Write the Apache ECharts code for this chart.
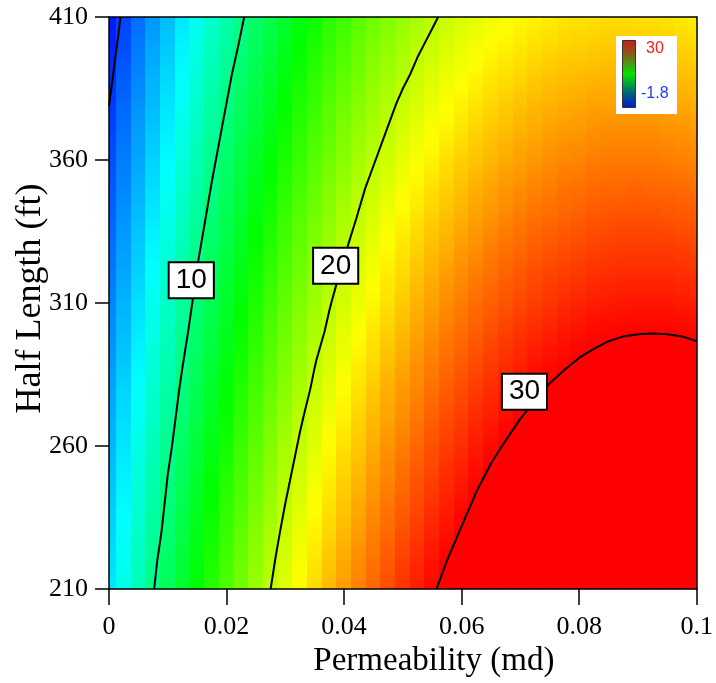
<!DOCTYPE html>
<html>
<head>
<meta charset="utf-8">
<script src="https://cdn.jsdelivr.net/npm/echarts@6/dist/echarts.min.js"></script>
<style>
  html, body { margin: 0; padding: 0; background: #fff; }
  #chart { width: 716px; height: 683px; }
</style>
</head>
<body>
<div id="chart"></div>
<script>
// Grid nodes: permeability (md) along x, fracture half length (ft) along y
const permeability = [0, 0.0025, 0.005, 0.0075, 0.01, 0.0125, 0.015, 0.0175, 0.02, 0.0225,
  0.025, 0.0275, 0.03, 0.0325, 0.035, 0.0375, 0.04, 0.0425, 0.045, 0.0475,
  0.05, 0.0525, 0.055, 0.0575, 0.06, 0.0625, 0.065, 0.0675, 0.07, 0.0725,
  0.075, 0.0775, 0.08, 0.0825, 0.085, 0.0875, 0.09, 0.0925, 0.095, 0.0975, 0.1];
const halfLength = [210, 220, 230, 240, 250, 260, 270, 280, 290, 300,
  310, 320, 330, 340, 350, 360, 370, 380, 390, 400, 410];

// Response value at each node, one row per half length (210 ft first)
const surface = [
  [5.4, 6.9, 8.4, 9.9, 11.3, 12.7, 14.0, 15.3, 16.5, 17.7, 18.9, 20.0, 21.1, 22.2, 23.2, 24.2, 25.1, 26.0, 26.8, 27.6, 28.4, 29.1, 29.8, 30.5, 31.1, 31.7, 32.2, 32.7, 33.1, 33.5, 33.9, 34.2, 34.5, 34.8, 35.0, 35.2, 35.3, 35.4, 35.4, 35.4, 35.4],
  [5.1, 6.6, 8.1, 9.6, 11.0, 12.3, 13.7, 14.9, 16.2, 17.4, 18.5, 19.7, 20.7, 21.8, 22.8, 23.8, 24.7, 25.6, 26.4, 27.2, 28.0, 28.7, 29.4, 30.0, 30.6, 31.2, 31.7, 32.2, 32.6, 33.0, 33.4, 33.7, 34.0, 34.2, 34.4, 34.6, 34.7, 34.8, 34.8, 34.8, 34.8],
  [4.8, 6.3, 7.8, 9.2, 10.6, 12.0, 13.3, 14.6, 15.8, 17.0, 18.2, 19.3, 20.4, 21.4, 22.4, 23.3, 24.2, 25.1, 26.0, 26.7, 27.5, 28.2, 28.9, 29.5, 30.1, 30.7, 31.2, 31.7, 32.1, 32.5, 32.8, 33.2, 33.4, 33.7, 33.9, 34.0, 34.1, 34.2, 34.2, 34.2, 34.2],
  [4.5, 6.0, 7.5, 8.9, 10.3, 11.7, 13.0, 14.2, 15.5, 16.6, 17.8, 18.9, 20.0, 21.0, 22.0, 22.9, 23.8, 24.7, 25.5, 26.3, 27.0, 27.7, 28.4, 29.0, 29.6, 30.2, 30.7, 31.1, 31.6, 32.0, 32.3, 32.6, 32.9, 33.1, 33.3, 33.4, 33.5, 33.6, 33.6, 33.6, 33.6],
  [4.2, 5.7, 7.2, 8.6, 10.0, 11.3, 12.6, 13.9, 15.1, 16.3, 17.4, 18.5, 19.6, 20.6, 21.6, 22.5, 23.4, 24.2, 25.1, 25.8, 26.6, 27.3, 27.9, 28.6, 29.1, 29.7, 30.2, 30.6, 31.0, 31.4, 31.8, 32.1, 32.3, 32.5, 32.7, 32.8, 32.9, 33.0, 33.0, 33.0, 32.9],
  [3.9, 5.4, 6.9, 8.3, 9.6, 11.0, 12.3, 13.5, 14.7, 15.9, 17.0, 18.1, 19.2, 20.2, 21.1, 22.1, 23.0, 23.8, 24.6, 25.4, 26.1, 26.8, 27.5, 28.1, 28.6, 29.2, 29.7, 30.1, 30.5, 30.9, 31.2, 31.5, 31.8, 32.0, 32.1, 32.3, 32.4, 32.4, 32.4, 32.4, 32.3],
  [3.6, 5.1, 6.5, 7.9, 9.3, 10.6, 11.9, 13.1, 14.3, 15.5, 16.6, 17.7, 18.7, 19.8, 20.7, 21.6, 22.5, 23.4, 24.2, 24.9, 25.6, 26.3, 27.0, 27.6, 28.1, 28.7, 29.1, 29.6, 29.98, 30.3, 30.7, 30.9, 31.2, 31.4, 31.6, 31.7, 31.8, 31.8, 31.8, 31.8, 31.7],
  [3.3, 4.8, 6.2, 7.6, 8.9, 10.3, 11.5, 12.8, 14.0, 15.1, 16.2, 17.3, 18.3, 19.3, 20.3, 21.2, 22.1, 22.9, 23.7, 24.5, 25.2, 25.8, 26.5, 27.1, 27.6, 28.1, 28.6, 29.0, 29.4, 29.8, 30.1, 30.4, 30.6, 30.8, 31.0, 31.1, 31.2, 31.2, 31.2, 31.1, 31.1],
  [3.0, 4.4, 5.9, 7.3, 8.6, 9.9, 11.2, 12.4, 13.6, 14.7, 15.8, 16.9, 17.9, 18.9, 19.9, 20.8, 21.6, 22.5, 23.2, 24.0, 24.7, 25.4, 26.0, 26.6, 27.1, 27.6, 28.1, 28.5, 28.9, 29.3, 29.6, 29.8, 30.05, 30.2, 30.4, 30.5, 30.6, 30.6, 30.6, 30.5, 30.4],
  [2.7, 4.1, 5.5, 6.9, 8.2, 9.5, 10.8, 12.0, 13.2, 14.3, 15.4, 16.5, 17.5, 18.5, 19.4, 20.3, 21.2, 22.0, 22.8, 23.5, 24.2, 24.9, 25.5, 26.1, 26.6, 27.1, 27.6, 28.0, 28.4, 28.7, 29.0, 29.3, 29.5, 29.7, 29.8, 29.9, 29.94, 29.96, 29.94, 29.9, 29.8],
  [2.3, 3.8, 5.2, 6.6, 7.9, 9.2, 10.4, 11.6, 12.8, 13.9, 15.0, 16.1, 17.1, 18.1, 19.0, 19.9, 20.7, 21.5, 22.3, 23.0, 23.7, 24.4, 25.0, 25.6, 26.1, 26.6, 27.0, 27.4, 27.8, 28.1, 28.4, 28.7, 28.9, 29.1, 29.2, 29.3, 29.3, 29.3, 29.3, 29.2, 29.1],
  [2.0, 3.4, 4.8, 6.2, 7.5, 8.8, 10.1, 11.3, 12.4, 13.5, 14.6, 15.7, 16.7, 17.6, 18.6, 19.4, 20.3, 21.1, 21.8, 22.6, 23.2, 23.9, 24.5, 25.1, 25.6, 26.1, 26.5, 26.9, 27.3, 27.6, 27.9, 28.1, 28.3, 28.5, 28.6, 28.7, 28.7, 28.7, 28.7, 28.6, 28.5],
  [1.7, 3.1, 4.5, 5.9, 7.2, 8.4, 9.7, 10.9, 12.0, 13.1, 14.2, 15.2, 16.2, 17.2, 18.1, 19.0, 19.8, 20.6, 21.4, 22.1, 22.8, 23.4, 24.0, 24.5, 25.1, 25.5, 26.0, 26.4, 26.7, 27.0, 27.3, 27.5, 27.7, 27.9, 28.0, 28.1, 28.1, 28.1, 28.1, 28.0, 27.8],
  [1.3, 2.8, 4.1, 5.5, 6.8, 8.1, 9.3, 10.5, 11.6, 12.7, 13.8, 14.8, 15.8, 16.8, 17.7, 18.5, 19.4, 20.1, 20.9, 21.6, 22.3, 22.9, 23.5, 24.0, 24.5, 25.0, 25.4, 25.8, 26.2, 26.5, 26.7, 26.9, 27.1, 27.3, 27.4, 27.5, 27.5, 27.5, 27.4, 27.3, 27.2],
  [1.0, 2.4, 3.8, 5.1, 6.4, 7.7, 8.9, 10.1, 11.2, 12.3, 13.4, 14.4, 15.4, 16.3, 17.2, 18.1, 18.9, 19.7, 20.4, 21.1, 21.8, 22.4, 23.0, 23.5, 24.0, 24.5, 24.9, 25.3, 25.6, 25.9, 26.1, 26.4, 26.5, 26.7, 26.8, 26.8, 26.9, 26.8, 26.8, 26.7, 26.5],
  [0.7, 2.1, 3.4, 4.8, 6.1, 7.3, 8.5, 9.7, 10.8, 11.9, 13.0, 14.0, 14.9, 15.9, 16.8, 17.6, 18.4, 19.2, 19.9, 20.6, 21.3, 21.9, 22.4, 23.0, 23.5, 23.9, 24.3, 24.7, 25.0, 25.3, 25.6, 25.8, 25.9, 26.1, 26.2, 26.2, 26.2, 26.2, 26.1, 26.0, 25.9],
  [0.3, 1.7, 3.1, 4.4, 5.7, 6.9, 8.1, 9.3, 10.4, 11.5, 12.5, 13.5, 14.5, 15.4, 16.3, 17.1, 18.0, 18.7, 19.4, 20.1, 20.8, 21.4, 21.9, 22.4, 22.9, 23.4, 23.8, 24.1, 24.5, 24.7, 25.0, 25.2, 25.3, 25.5, 25.6, 25.6, 25.6, 25.6, 25.5, 25.4, 25.2],
  [-0.04, 1.4, 2.7, 4.0, 5.3, 6.5, 7.7, 8.9, 10.0, 11.1, 12.1, 13.1, 14.1, 15.0, 15.8, 16.7, 17.5, 18.2, 18.9, 19.6, 20.3, 20.8, 21.4, 21.9, 22.4, 22.8, 23.2, 23.6, 23.9, 24.2, 24.4, 24.6, 24.7, 24.9, 24.9, 25.0, 25.0, 24.9, 24.8, 24.7, 24.5],
  [-0.4, 1.0, 2.3, 3.7, 4.9, 6.1, 7.3, 8.5, 9.6, 10.7, 11.7, 12.7, 13.6, 14.5, 15.4, 16.2, 17.0, 17.7, 18.5, 19.1, 19.7, 20.3, 20.9, 21.4, 21.8, 22.3, 22.7, 23.0, 23.3, 23.6, 23.8, 24.0, 24.1, 24.2, 24.3, 24.3, 24.3, 24.3, 24.2, 24.0, 23.9],
  [-0.7, 0.6, 2.0, 3.3, 4.5, 5.8, 6.9, 8.1, 9.2, 10.2, 11.2, 12.2, 13.2, 14.1, 14.9, 15.7, 16.5, 17.3, 18.0, 18.6, 19.2, 19.8, 20.3, 20.8, 21.3, 21.7, 22.1, 22.4, 22.7, 23.0, 23.2, 23.4, 23.5, 23.6, 23.7, 23.7, 23.7, 23.6, 23.5, 23.4, 23.2],
  [-1.1, 0.3, 1.6, 2.9, 4.1, 5.4, 6.5, 7.7, 8.7, 9.8, 10.8, 11.8, 12.7, 13.6, 14.4, 15.3, 16.0, 16.8, 17.5, 18.1, 18.7, 19.3, 19.8, 20.3, 20.8, 21.2, 21.5, 21.9, 22.2, 22.4, 22.6, 22.8, 22.9, 23.0, 23.1, 23.1, 23.0, 23.0, 22.9, 22.7, 22.5]
];

// Axis ticks
const xTicks = [0, 0.02, 0.04, 0.06, 0.08, 0.1];
const yTicks = [210, 260, 310, 360, 410];

// Contour levels and which of them carry a value label
const contourLevels = [0, 10, 20, 30];
const labelledLevels = [10, 20, 30];

// Colour scale limits shown in the key
const colorMin = -1.8;
const colorMax = 30;

// ---------------------------------------------------------------------------
const SERIF = "'Liberation Serif', 'Times New Roman', serif";
const SANS = "'Liberation Sans', Arial, sans-serif";

// Rainbow scale: blue -> cyan -> green -> yellow -> red, clamped at the ends
const rampStops = [[0, 0, 255], [0, 255, 255], [0, 255, 0], [255, 255, 0], [255, 0, 0]];
function colorOf(v) {
  let t = (v - colorMin) / (colorMax - colorMin);
  t = Math.max(0, Math.min(1, t));
  const s = t * (rampStops.length - 1);
  const i = Math.min(Math.floor(s), rampStops.length - 2);
  const f = s - i;
  const a = rampStops[i], b = rampStops[i + 1];
  return 'rgb(' + a.map((c, n) => Math.round(c + (b[n] - c) * f)).join(',') + ')';
}

const cellW = permeability[1] - permeability[0];

// One strip per column between two neighbouring half-length rows:
// [permeability, lower half length, lower value, upper half length, upper value]
const strips = [];
for (let r = 0; r < halfLength.length - 1; r++) {
  permeability.forEach((k, c) => {
    strips.push([k, halfLength[r], surface[r][c], halfLength[r + 1], surface[r + 1][c]]);
  });
}

function renderStrip(params, api) {
  const k = api.value(0);
  const zLow = api.value(2), zHigh = api.value(4);
  const tl = api.coord([k - cellW / 2, api.value(3)]);
  const br = api.coord([k + cellW / 2, api.value(1)]);
  const cs = params.coordSys;
  const x0 = Math.max(cs.x, Math.floor(tl[0]));
  const x1 = Math.min(cs.x + cs.width, Math.ceil(br[0]));
  const y0 = Math.max(cs.y, Math.floor(tl[1]));
  const y1 = Math.min(cs.y + cs.height, Math.ceil(br[1]));
  const shade = [];
  for (let s = 0; s <= 4; s++) {
    shade.push({ offset: s / 4, color: colorOf(zLow + (zHigh - zLow) * s / 4) });
  }
  return {
    type: 'rect',
    shape: { x: x0, y: y0, width: x1 - x0, height: y1 - y0 },
    style: { fill: new echarts.graphic.LinearGradient(0, 1, 0, 0, shade) }
  };
}

// Marching squares over the node grid; returns polylines in data coordinates
function traceContour(level) {
  const nx = permeability.length, ny = halfLength.length;
  const pts = new Map();
  const links = new Map();
  const val = n => surface[(n / nx) | 0][n % nx];
  function cross(n1, n2) {
    const v1 = val(n1), v2 = val(n2);
    if ((v1 >= level) === (v2 >= level)) return null;
    const id = Math.min(n1, n2) + '-' + Math.max(n1, n2);
    if (!pts.has(id)) {
      const t = (level - v1) / (v2 - v1);
      const i1 = n1 % nx, j1 = (n1 / nx) | 0, i2 = n2 % nx, j2 = (n2 / nx) | 0;
      pts.set(id, [
        permeability[i1] + (permeability[i2] - permeability[i1]) * t,
        halfLength[j1] + (halfLength[j2] - halfLength[j1]) * t
      ]);
    }
    return id;
  }
  function link(a, b) {
    if (!links.has(a)) links.set(a, []);
    if (!links.has(b)) links.set(b, []);
    links.get(a).push(b);
    links.get(b).push(a);
  }
  for (let j = 0; j < ny - 1; j++) {
    for (let i = 0; i < nx - 1; i++) {
      const a = j * nx + i, b = a + 1, c = a + nx + 1, d = a + nx;
      const e = [cross(a, b), cross(b, c), cross(d, c), cross(a, d)];
      const hits = e.filter(Boolean);
      if (hits.length === 2) {
        link(hits[0], hits[1]);
      } else if (hits.length === 4) {
        const center = (val(a) + val(b) + val(c) + val(d)) / 4;
        if ((center >= level) === (val(a) >= level)) { link(e[0], e[1]); link(e[2], e[3]); }
        else { link(e[3], e[0]); link(e[1], e[2]); }
      }
    }
  }
  const used = new Set();
  const walk = start => {
    const path = [start];
    used.add(start);
    let cur = start;
    for (;;) {
      const next = (links.get(cur) || []).find(n => !used.has(n));
      if (!next) break;
      used.add(next);
      path.push(next);
      cur = next;
    }
    return path;
  };
  const paths = [];
  for (const [id, nb] of links) if (nb.length === 1 && !used.has(id)) paths.push(walk(id));
  for (const id of links.keys()) if (!used.has(id)) { const p = walk(id); p.push(p[0]); paths.push(p); }
  return paths.map(p => p.map(id => pts.get(id)));
}

function pointAtHalfLength(paths, L) {
  for (const p of paths) {
    for (let i = 1; i < p.length; i++) {
      const [x1, y1] = p[i - 1], [x2, y2] = p[i];
      if (y1 !== y2 && (y1 - L) * (y2 - L) <= 0) {
        const t = (L - y1) / (y2 - y1);
        return [x1 + (x2 - x1) * t, L];
      }
    }
  }
  return null;
}

// Where each contour value label sits along its line (half length, pixel nudge)
const labelPlacement = { 10: { at: 318, nudge: [-4, 0] }, 20: { at: 323, nudge: [-6, 0] }, 30: { at: 279, nudge: [-18, 0] } };

const series = [{
  type: 'custom',
  renderItem: renderStrip,
  data: strips,
  encode: { x: 0, y: 1 },
  silent: true,
  z: 1
}];

const labelData = [];
contourLevels.forEach(level => {
  const paths = traceContour(level);
  paths.forEach(path => {
    series.push({
      type: 'line',
      data: path,
      showSymbol: false,
      symbol: 'none',
      smooth: false,
      silent: true,
      clip: true,
      lineStyle: { color: '#000', width: 2 },
      z: 3
    });
  });
  if (labelledLevels.includes(level)) {
    const place = labelPlacement[level];
    const p = pointAtHalfLength(paths, place.at);
    if (p) labelData.push({ value: [p[0], p[1], level], label: { offset: place.nudge } });
  }
});

series.push({
  type: 'scatter',
  data: labelData,
  symbol: 'rect',
  symbolSize: 0.01,
  itemStyle: { color: 'rgba(0,0,0,0)', opacity: 1 },
  silent: true,
  clip: false,
  z: 5,
  label: {
    show: true,
    position: 'inside',
    formatter: p => String(p.value[2]),
    fontFamily: SANS,
    fontSize: 28,
    color: '#000',
    backgroundColor: '#fff',
    borderColor: '#000',
    borderWidth: 2,
    padding: [4, 6, 2, 6]
  }
});

const frameLine = { show: true, onZero: false, lineStyle: { color: '#000', width: 1.5 } };

const chart = echarts.init(document.getElementById('chart'), null, { renderer: 'canvas' });
chart.setOption({
  animation: false,
  backgroundColor: '#fff',
  grid: { left: 109, right: 19, top: 17, bottom: 93, containLabel: false },
  xAxis: [{
    type: 'value', min: 0, max: 0.1,
    name: 'Permeability (md)', nameLocation: 'middle', nameGap: 55,
    nameTextStyle: { fontFamily: SERIF, fontSize: 33, color: '#000', padding: [0, 0, 0, 62] },
    axisLine: frameLine,
    axisTick: { show: true, inside: false, length: 16, customValues: xTicks, lineStyle: { color: '#000', width: 1.5 } },
    axisLabel: { customValues: xTicks, formatter: v => String(+(+v).toFixed(2)), margin: 25, fontFamily: SERIF, fontSize: 26, color: '#000' },
    splitLine: { show: false },
    z: 10
  }, {
    type: 'value', min: 0, max: 0.1, position: 'top',
    axisLine: frameLine, axisTick: { show: false }, axisLabel: { show: false }, splitLine: { show: false },
    z: 10
  }],
  yAxis: [{
    type: 'value', min: 210, max: 410,
    name: 'Half Length (ft)', nameLocation: 'middle', nameGap: 60, nameMoveOverlap: false,
    nameTextStyle: { fontFamily: SERIF, fontSize: 36, color: '#000', padding: [0, 0, 0, 9] },
    axisLine: frameLine,
    axisTick: { show: true, inside: false, length: 14, customValues: yTicks, lineStyle: { color: '#000', width: 1.5 } },
    axisLabel: { customValues: yTicks, margin: 21, fontFamily: SERIF, fontSize: 26, color: '#000' },
    splitLine: { show: false },
    z: 10
  }, {
    type: 'value', min: 210, max: 410, position: 'right',
    axisLine: frameLine, axisTick: { show: false }, axisLabel: { show: false }, splitLine: { show: false },
    z: 10
  }],
  series: series,
  graphic: [
    { type: 'rect', left: 616, top: 36, z: 100, shape: { width: 61, height: 78 }, style: { fill: '#fff' } },
    {
      type: 'rect', left: 622, top: 40, z: 101,
      shape: { width: 13, height: 67 },
      style: {
        fill: new echarts.graphic.LinearGradient(0, 0, 0, 1, [
          { offset: 0, color: '#d01818' },
          { offset: 0.25, color: '#7a6a1a' },
          { offset: 0.5, color: '#00e400' },
          { offset: 0.75, color: '#007068' },
          { offset: 1, color: '#0018d0' }
        ]),
        stroke: '#333',
        lineWidth: 1
      }
    },
    { type: 'text', left: 646, top: 41, z: 101, style: { text: String(colorMax), fill: '#ff1a1a', font: '16px ' + SANS } },
    { type: 'text', left: 641, top: 86, z: 101, style: { text: String(colorMin), fill: '#1a3cff', font: '16px ' + SANS } }
  ]
});
</script>
</body>
</html>
